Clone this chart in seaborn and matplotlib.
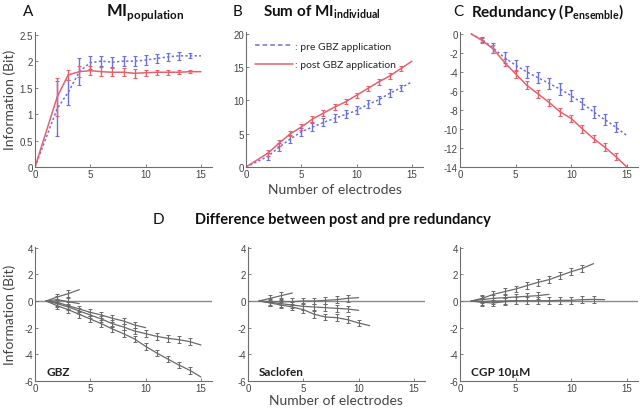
import pandas as pd
import seaborn as sns
import matplotlib.pyplot as plt
import matplotlib.ticker as mticker
import numpy as np

# ---- data ----
n_top = [0, 2, 3, 4, 5, 6, 7, 8, 9, 10, 11, 12, 13, 14, 15]
mi_pre = [0, 1.1, 1.41, 1.8, 1.97, 2.0, 1.98, 2.0, 2.0, 2.02, 2.05, 2.08, 2.1, 2.1, 2.1]
mi_post = [0, 1.32, 1.74, 1.8, 1.82, 1.8, 1.79, 1.79, 1.77, 1.78, 1.79, 1.79, 1.79, 1.8, 1.8]
mi_pre_err = [0, 0.52, 0.24, 0.25, 0.12, 0.1, 0.1, 0.1, 0.1, 0.1, 0.08, 0.08, 0.07, 0.05, 0]
mi_post_err = [0, 0.36, 0.1, 0.1, 0.08, 0.08, 0.08, 0.08, 0.08, 0.06, 0.05, 0.05, 0.04, 0.03, 0]

sum_pre = [0, 1.6, 3.0, 4.2, 5.3, 6.0, 6.7, 7.3, 7.9, 8.5, 9.4, 10.1, 11.1, 11.9, 12.8]
sum_post = [0, 2.1, 3.6, 5.0, 6.0, 7.2, 8.1, 9.0, 9.8, 10.8, 11.8, 12.8, 13.7, 14.8, 15.9]
sum_pre_err = [0, 0.5, 0.6, 0.6, 0.6, 0.6, 0.6, 0.6, 0.6, 0.6, 0.6, 0.6, 0.6, 0.5, 0]
sum_post_err = [0, 0.4, 0.4, 0.4, 0.4, 0.4, 0.4, 0.4, 0.4, 0.4, 0.4, 0.4, 0.4, 0.35, 0]

n_red = [1, 2, 3, 4, 5, 6, 7, 8, 9, 10, 11, 12, 13, 14, 15]
red_pre = [0, -0.6, -1.5, -2.5, -3.3, -4.0, -4.6, -5.2, -5.8, -6.5, -7.3, -8.2, -9.0, -9.8, -10.7]
red_post = [0, -0.7, -1.6, -3.0, -4.2, -5.4, -6.3, -7.2, -8.2, -8.9, -10.0, -11.0, -11.9, -12.9, -14.0]
red_pre_err = [0, 0.3, 0.5, 0.6, 0.6, 0.6, 0.6, 0.6, 0.6, 0.6, 0.6, 0.6, 0.6, 0.5, 0]
red_post_err = [0, 0.3, 0.4, 0.4, 0.4, 0.4, 0.4, 0.4, 0.4, 0.4, 0.4, 0.4, 0.4, 0.35, 0]

# difference post - pre redundancy, each line starts at 1 electrode
gbz = [
    [0, 0.3, 0.55, 0.85],
    [0, 0.1, -0.05, -0.2],
    [0, -0.1, -0.35, -0.6, -0.85, -1.05, -1.3, -1.5, -1.8, -2.0],
    [0, -0.2, -0.45, -0.75, -1.05, -1.35, -1.7, -1.95, -2.25, -2.45, -2.65, -2.8, -2.9, -3.05, -3.3],
    [0, -0.35, -0.65, -1.0, -1.35, -1.7, -2.1, -2.45, -2.85, -3.4, -3.9, -4.35, -4.8, -5.2, -5.7],
]
saclofen = [
    [0, 0.2, 0.4, 0.6],
    [0, -0.05, -0.05, -0.05, 0.0, 0.0, 0.05, 0.1, 0.2, 0.25],
    [0, -0.1, -0.2, -0.3, -0.4, -0.45, -0.5, -0.55, -0.6, -0.7],
    [0, -0.15, -0.3, -0.45, -0.65, -1.0, -1.2, -1.25, -1.4, -1.65, -1.85],
]
cgp = [
    [0, 0.2, 0.5, 0.7, 0.9, 1.15, 1.4, 1.6, 1.9, 2.2, 2.45, 2.8],
    [0, 0.1, 0.2, 0.25, 0.3, 0.35, 0.4, 0.5],
    [0, -0.05, 0.0, 0.0, 0.02, 0.02, 0.02, 0.02, 0.05, 0.05, 0.1, 0.12, 0.1],
    [0, -0.1, -0.15, -0.05, 0.0],
]
diff_err = 0.25
panel_names = ["GBZ", "Saclofen", "CGP 10\u00b5M"]

# ---- style ----
sns.set_style("ticks")
plt.rcParams["font.family"] = ["Liberation Sans", "DejaVu Sans"]
plt.rcParams["mathtext.fontset"] = "custom"
plt.rcParams["mathtext.rm"] = "Lato"
plt.rcParams["mathtext.bf"] = "Lato:bold"
plt.rcParams["axes.edgecolor"] = "#6e6e6e"
plt.rcParams["axes.linewidth"] = 0.8

BLUE = "#6c70dc"
RED = "#e8606c"
GRAY = "#6a6a6a"
TXT = "#444444"

fig = plt.figure(figsize=(6.4, 4.1), dpi=100)
W, H = 640, 410


def add_ax(left, right, top, bottom):
    return fig.add_axes([left / W, 1 - bottom / H, (right - left) / W, (bottom - top) / H])


def style(ax, ylim, yticks):
    sns.despine(ax=ax)
    ax.set_xlim(0, 16)
    ax.set_xticks([0, 5, 10, 15])
    ax.set_ylim(*ylim)
    ax.set_yticks(yticks)
    ax.yaxis.set_major_formatter(mticker.FormatStrFormatter("%g"))
    ax.tick_params(direction="in", length=2.5, width=0.6, labelsize=7,
                   labelcolor=TXT, color="#6e6e6e", pad=1.5)
    ax.set_xlabel("")
    ax.set_ylabel("")


def pre_post(ax, x, pre, post, pre_err, post_err):
    df = pd.DataFrame({"x": list(x) * 2, "y": list(pre) + list(post),
                       "cond": ["pre"] * len(x) + ["post"] * len(x)})
    sns.lineplot(data=df, x="x", y="y", hue="cond", style="cond",
                 palette={"pre": BLUE, "post": RED},
                 dashes={"pre": (1.5, 1.5), "post": ""}, linewidth=1.1,
                 legend=False, ax=ax)
    for y, e, c in [(pre, pre_err, BLUE), (post, post_err, RED)]:
        ax.errorbar(x[1:-1], y[1:-1], yerr=e[1:-1], fmt="none", ecolor=c,
                    elinewidth=1.0, capsize=1.5, capthick=0.8)


axA = add_ax(35, 212, 33, 168)
pre_post(axA, n_top, mi_pre, mi_post, mi_pre_err, mi_post_err)
style(axA, (0, 2.55), [0, 0.5, 1, 1.5, 2, 2.5])

axB = add_ax(246, 423, 33, 168)
pre_post(axB, n_top, sum_pre, sum_post, sum_pre_err, sum_post_err)
style(axB, (0, 20.3), [0, 5, 10, 15, 20])
hB = [plt.Line2D([], [], color=BLUE, lw=1.1, dashes=(3, 2)),
      plt.Line2D([], [], color=RED, lw=1.1)]
axB.legend(hB, [": pre GBZ application", ": post GBZ application"],
           loc="upper left", bbox_to_anchor=(0.0, 1.0), frameon=False,
           fontsize=7.5, handlelength=3.6, handletextpad=0.2, labelspacing=0.9,
           prop={"family": "Lato", "size": 7.5})

axC = add_ax(460, 638, 33, 168)
pre_post(axC, n_red, red_pre, red_post, red_pre_err, red_post_err)
style(axC, (-14, 0.2), list(range(0, -15, -2)))

bottom_axes = []
for lines, (l, r) in zip([gbz, saclofen, cgp], [(35, 212), (248, 425), (460, 638)]):
    ax = add_ax(l, r, 248, 382)
    ax.axhline(0, color="#8a8a8a", lw=1.0, zorder=0)
    rows = []
    for i, ys in enumerate(lines):
        for j, y in enumerate(ys):
            rows.append({"x": j + 1, "y": y, "line": i})
    df = pd.DataFrame(rows)
    sns.lineplot(data=df, x="x", y="y", units="line", estimator=None,
                 color=GRAY, linewidth=0.9, ax=ax)
    for ys in lines:
        xs = np.arange(2, len(ys) + 1)
        ax.errorbar(xs[:-1] if len(ys) > 4 else xs[:-1], ys[1:-1] if len(ys) > 2 else ys[1:],
                    yerr=diff_err, fmt="none", ecolor=GRAY, elinewidth=0.8,
                    capsize=1.5, capthick=0.7)
    style(ax, (-6, 4.05), [-6, -4, -2, 0, 2, 4])
    bottom_axes.append(ax)

for ax, name in zip(bottom_axes, panel_names):
    ax.text(1.0, -5.3, name, fontsize=8.5, fontweight="bold", color="#222222",
            family="Lato", va="center")

# ---- labels and titles ----
lab = dict(family="Lato", color=TXT)
fig.text(10 / W, 1 - 100 / H, "Information (Bit)", rotation=90, va="center",
         ha="center", fontsize=10, **lab)
fig.text(10 / W, 1 - 315 / H, "Information (Bit)", rotation=90, va="center",
         ha="center", fontsize=10, **lab)
fig.text(335 / W, 1 - 190 / H, "Number of electrodes", ha="center", va="center",
         fontsize=10, **lab)
fig.text(336 / W, 1 - 401 / H, "Number of electrodes", ha="center", va="center",
         fontsize=10, **lab)

big = dict(family="Lato", color="#111111", va="center")
fig.text(28 / W, 1 - 12 / H, "A", fontsize=11, ha="center", **big)
fig.text(238 / W, 1 - 12 / H, "B", fontsize=11, ha="center", **big)
fig.text(458 / W, 1 - 12 / H, "C", fontsize=11, ha="center", **big)
fig.text(158 / W, 1 - 220 / H, "D", fontsize=11, ha="center", **big)

fig.text(145 / W, 1 - 13 / H, r"$\mathbf{MI}_{\mathbf{population}}$", fontsize=12,
         ha="center", **big)
fig.text(322 / W, 1 - 12 / H, r"Sum of $\mathbf{MI}_{\mathbf{individual}}$", fontsize=11,
         fontweight="bold", ha="center", **big)
fig.text(548 / W, 1 - 12 / H, r"Redundancy ($\mathbf{P}_{\mathbf{ensemble}}$)", fontsize=11,
         fontweight="bold", ha="center", **big)
fig.text(343 / W, 1 - 220 / H, "Difference between post and pre redundancy",
         fontsize=10.5, fontweight="bold", ha="center", **big)

fig.savefig("out.png", dpi=100)
